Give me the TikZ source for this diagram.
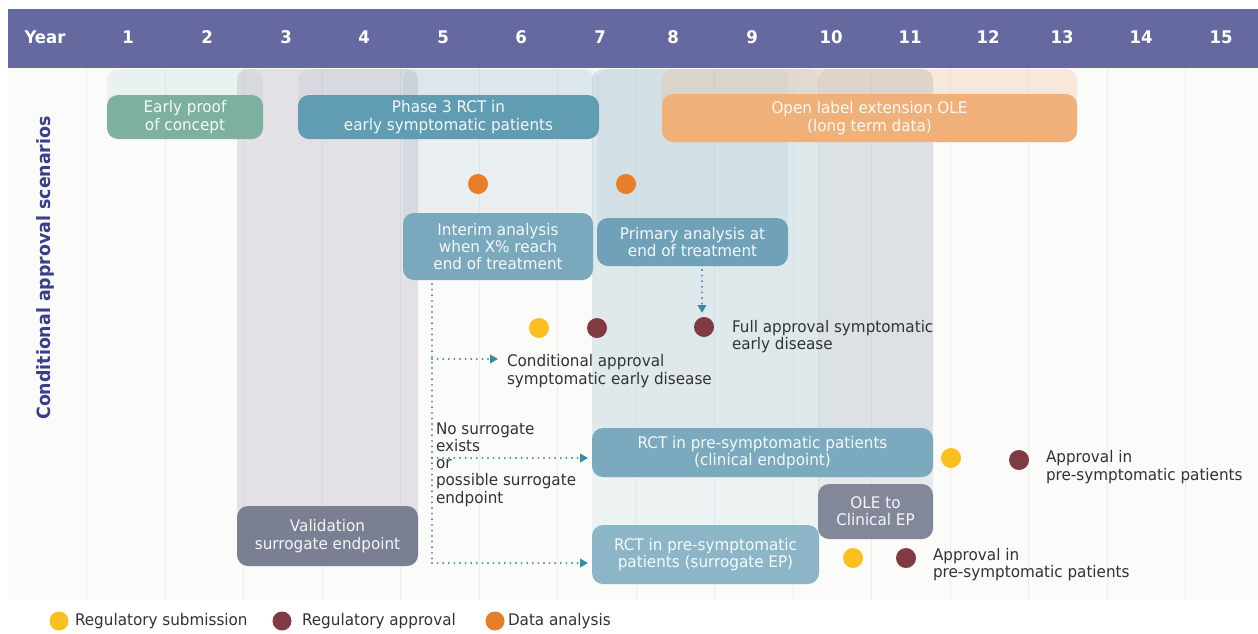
\documentclass[tikz,border=0pt]{standalone}
\usepackage{fontspec}
\setmainfont{DejaVu Sans}[FakeStretch=0.95]
\usetikzlibrary{arrows.meta}

% palette
\definecolor{hdr}{RGB}{102,104,160}
\definecolor{lbl}{RGB}{58,62,140}
\definecolor{cgreen}{RGB}{126,176,158}
\definecolor{cblue}{RGB}{96,157,179}
\definecolor{cblueA}{RGB}{122,168,189}
\definecolor{cblueB}{RGB}{111,162,184}
\definecolor{cblueC}{RGB}{123,170,190}
\definecolor{cblueD}{RGB}{140,182,200}
\definecolor{cgray}{RGB}{122,128,145}
\definecolor{cgrayB}{RGB}{130,135,153}
\definecolor{clav}{RGB}{135,125,150}
\definecolor{corange}{RGB}{240,176,122}
\definecolor{dyel}{RGB}{251,191,32}
\definecolor{dmar}{RGB}{128,58,66}
\definecolor{dora}{RGB}{232,126,42}
\definecolor{flow}{RGB}{58,138,166}
\definecolor{ink}{RGB}{51,51,51}
\definecolor{panel}{RGB}{251,251,250}
\definecolor{gridc}{RGB}{238,238,238}

\newcommand{\bodyfont}{\fontsize{16}{17.3}\selectfont}
\newcommand{\hdrfont}{\fontsize{17.4}{21}\selectfont\bfseries}

\begin{document}
\begin{tikzpicture}[x=1pt,y=-1pt,
  every node/.style={inner sep=0pt, outer sep=0pt},
  band/.style={rounded corners=11pt},
  box/.style={rounded corners=11pt, align=center, text=white, text opacity=0.92, font=\bodyfont},
  note/.style={anchor=west, align=left, text=ink, font=\bodyfont},
  yr/.style={anchor=base, text=white, font=\hdrfont},
  dot/.style={circle, minimum size=20pt},
  keydot/.style={circle, minimum size=19pt},
  flowline/.style={draw=flow, line width=2.1pt, line cap=round, dash pattern=on 0pt off 5.6pt},
  flowarrow/.style={flowline, -{Triangle[length=8pt,width=8.5pt]}},
]

\useasboundingbox (0,0) rectangle (1258,633);
\fill[white] (0,0) rectangle (1258,633);

% chart panel and year grid
\fill[panel] (8,68) rectangle (1258,600);
\foreach \k in {0,...,14}
  \draw[gridc, line width=1pt] ({86.5+78.5*\k},68) -- ({86.5+78.5*\k},600);

% translucent time bands rising from each activity
\fill[band, cgreen,  fill opacity=0.12] (107,69) rectangle (263,139);
\fill[band, cblue,   fill opacity=0.10] (298,69) rectangle (599,139);
\fill[band, clav,    fill opacity=0.20] (237,69) rectangle (418,566);
\fill[band, cblueA,  fill opacity=0.13] (403,69) rectangle (593,280);
\fill[band, cblue,   fill opacity=0.10] (597,69) rectangle (788,266);
\fill[band, cblueC,  fill opacity=0.12] (592,69) rectangle (933,477);
\fill[band, cgrayB,  fill opacity=0.15] (818,69) rectangle (933,539);
\fill[band, cblueD,  fill opacity=0.12] (592,69) rectangle (819,584);
\fill[band, corange, fill opacity=0.25] (662,69) rectangle (1077,142);

% header with years
\fill[hdr] (8,9) rectangle (1258,68);
\node[yr] (hy) at (45,43) {Year};
\foreach \n/\x in {1/128,2/207,3/286,4/364,5/443,6/521,7/600,8/673,9/752,10/831,11/910,12/988,13/1062,14/1141,15/1221}
  \node[yr] (h\n) at (\x,43) {\n};

% side title
\node[rotate=90, text=lbl, font=\fontsize{18.3}{22}\selectfont\bfseries] (side) at (45,268) {Conditional approval scenarios};

% activity boxes
\node[box, fill=cgreen,  minimum width=156pt, minimum height=44pt] (epc) at (185,117) {Early proof\\of concept};
\node[box, fill=cblue,   minimum width=301pt, minimum height=44pt] (p3) at (448.5,117) {Phase 3 RCT in\\early symptomatic patients};
\node[box, fill=corange, minimum width=415pt, minimum height=48pt] (ole) at (869.5,118) {Open label extension OLE\\(long term data)};
\node[box, fill=cblueA,  minimum width=190pt, minimum height=67pt] (interim) at (498,246.5) {Interim analysis\\when X\% reach\\end of treatment};
\node[box, fill=cblueB,  minimum width=191pt, minimum height=48pt] (prim) at (692.5,242) {Primary analysis at\\end of treatment};
\node[box, fill=cblueC,  minimum width=341pt, minimum height=49pt] (rctc) at (762.5,452.5) {RCT in pre-symptomatic patients\\(clinical endpoint)};
\node[box, fill=cblueD,  minimum width=227pt, minimum height=59pt] (rcts) at (705.5,554.5) {RCT in pre-symptomatic\\patients (surrogate EP)};
\node[box, fill=cgrayB,  minimum width=115pt, minimum height=55pt] (olec) at (875.5,511.5) {OLE to\\Clinical EP};
\node[box, fill=cgray,   minimum width=181pt, minimum height=60pt] (val) at (327.5,536) {Validation\\surrogate endpoint};

% milestones
\node[dot, fill=dora] (da1) at (478,184) {};
\node[dot, fill=dora] (da2) at (626,184) {};
\node[dot, fill=dyel] (sub1) at (539,328) {};
\node[dot, fill=dmar] (app1) at (597,328) {};
\node[dot, fill=dmar] (app2) at (704,327) {};
\node[dot, fill=dyel] (sub2) at (951,458) {};
\node[dot, fill=dmar] (app3) at (1019,460) {};
\node[dot, fill=dyel] (sub3) at (853,558) {};
\node[dot, fill=dmar] (app4) at (906,558) {};

% outcome texts
\node[note] (full) at (732,336.5) {Full approval symptomatic\\early disease};
\node[note] (cond) at (507,371) {Conditional approval\\symptomatic early disease};
\node[note] (nosur) at (436,464.5) {No surrogate\\exists\\or\\possible surrogate\\endpoint};
\node[note] (appA) at (1046,467) {Approval in\\pre-symptomatic patients};
\node[note] (appB) at (933,564.5) {Approval in\\pre-symptomatic patients};

% decision flow from the interim analysis
\coordinate (sp0) at (432,284);
\coordinate (sp1) at (432,359);
\coordinate (sp2) at (432,458);
\coordinate (sp3) at (432,563);
\draw[flowline] (sp0) -- (sp3);
\draw[flowarrow, shorten >=9pt] (sp1) -- (sp1 -| cond.west);
\draw[flowarrow, shorten >=4pt] (sp2) -- (sp2 -| rctc.west);
\draw[flowarrow, shorten >=4pt] (sp3) -- (sp3 -| rcts.west);
\draw[flowarrow, shorten <=4pt, shorten >=4pt] ([xshift=-2pt]app2 |- prim.south) -- ([xshift=-2pt]app2.north);

% legend
\node[keydot, fill=dyel] (k1) at (59,621) {};
\node[note] (k1t) at (75,621) {Regulatory submission};
\node[keydot, fill=dmar] (k2) at (282,621) {};
\node[note] (k2t) at (302,621) {Regulatory approval};
\node[keydot, fill=dora] (k3) at (495,621) {};
\node[note] (k3t) at (508,621) {Data analysis};

\end{tikzpicture}
\end{document}
